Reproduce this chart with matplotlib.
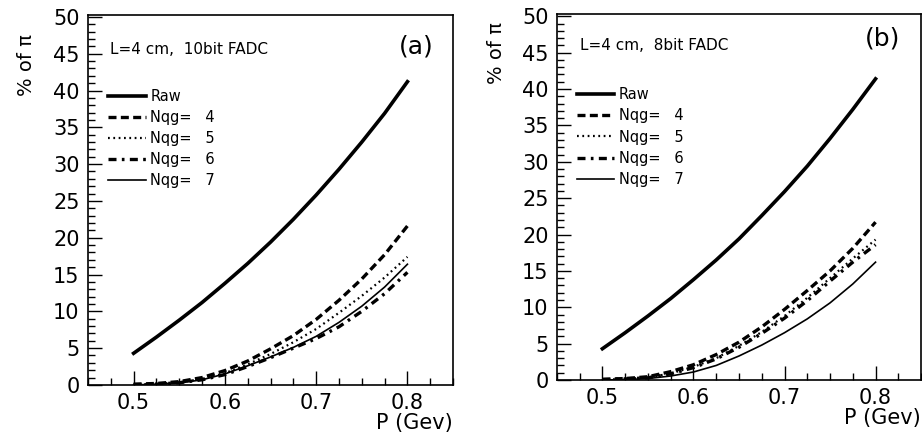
import numpy as np
import matplotlib
matplotlib.use("Agg")
from matplotlib import pyplot as plt
import matplotlib.ticker as mticker

plt.rcParams['font.family'] = ['DejaVu Sans']

# momentum points (GeV)
p = [0.5, 0.525, 0.55, 0.575, 0.6, 0.625, 0.65, 0.675, 0.7, 0.725, 0.75, 0.775, 0.8]

# panel (a): 10bit FADC
raw_a = [4.3, 6.5, 8.8, 11.2, 13.8, 16.5, 19.4, 22.5, 25.8, 29.3, 33.0, 36.9, 41.2]
nqg4_a = [0.1, 0.2, 0.45, 1.0, 1.95, 3.25, 4.9, 6.7, 8.9, 11.5, 14.4, 17.7, 21.6]
nqg5_a = [0.05, 0.15, 0.35, 0.8, 1.6, 2.8, 4.2, 5.8, 7.6, 9.8, 12.1, 14.6, 17.4]
nqg6_a = [0.05, 0.1, 0.3, 0.7, 1.4, 2.5, 3.7, 5.0, 6.3, 7.9, 10.0, 12.4, 15.3]
nqg7_a = [0.0, 0.1, 0.25, 0.7, 1.5, 2.6, 3.8, 5.1, 6.6, 8.5, 10.7, 13.3, 16.4]

# panel (b): 8bit FADC
raw_b = [4.3, 6.5, 8.8, 11.2, 13.8, 16.5, 19.4, 22.6, 25.9, 29.4, 33.2, 37.2, 41.4]
nqg4_b = [0.1, 0.2, 0.45, 1.15, 2.1, 3.5, 5.2, 7.3, 9.7, 12.3, 15.0, 18.1, 21.7]
nqg5_b = [0.05, 0.15, 0.35, 0.9, 1.8, 3.0, 4.7, 6.6, 8.8, 11.3, 14.0, 16.7, 19.3]
nqg6_b = [0.05, 0.15, 0.3, 0.85, 1.7, 2.9, 4.5, 6.4, 8.5, 10.9, 13.6, 16.2, 18.6]
nqg7_b = [0.0, 0.05, 0.2, 0.55, 1.1, 2.0, 3.3, 4.8, 6.5, 8.4, 10.6, 13.2, 16.2]

labels = ["Raw", "Nqg=   4", "Nqg=   5", "Nqg=   6", "Nqg=   7"]
styles = [
    dict(color="black", lw=2.6, ls="-"),
    dict(color="black", lw=2.4, ls=(0, (2.4, 1.3))),
    dict(color="black", lw=1.6, ls=(0, (0.8, 1.6))),
    dict(color="black", lw=2.4, ls=(0, (2.4, 1.6, 0.8, 1.6))),
    dict(color="black", lw=1.2, ls="-"),
]


def panel(ax, series, note, tag, ylab_pos, note_pos, tag_pos, leg_pos):
    for y, lab, st in zip(series, labels, styles):
        ax.plot(p, y, label=lab, **st)
    ax.set_xlim(0.45, 0.85)
    ax.set_ylim(0, 50.3)
    ax.xaxis.set_major_locator(mticker.FixedLocator([0.5, 0.6, 0.7, 0.8]))
    ax.xaxis.set_major_formatter(mticker.FormatStrFormatter("%.1f"))
    ax.xaxis.set_minor_locator(mticker.MultipleLocator(0.025))
    ax.yaxis.set_major_locator(mticker.MultipleLocator(5))
    ax.yaxis.set_minor_locator(mticker.MultipleLocator(1))
    ax.tick_params(which="both", direction="in", top=False, right=False, width=1.0)
    ax.tick_params(which="major", length=10, labelsize=15, pad=6)
    ax.tick_params(which="minor", length=5)
    for s in ax.spines.values():
        s.set_linewidth(1.2)
    ax.text(ylab_pos[0], ylab_pos[1], "% of π", rotation=90, fontsize=14,
            transform=ax.transAxes, ha="center", va="center")
    ax.text(1.0, -0.103, "P (Gev)", fontsize=15, transform=ax.transAxes,
            ha="right", va="center")
    ax.text(note_pos[0], note_pos[1], note, fontsize=11, transform=ax.transAxes,
            ha="left", va="center")
    ax.text(tag_pos[0], tag_pos[1], tag, fontsize=18, transform=ax.transAxes,
            ha="center", va="center")
    ax.legend(loc="upper left", bbox_to_anchor=leg_pos, frameon=False, fontsize=10.5,
              handlelength=2.6, handletextpad=0.3, labelspacing=0.42, borderpad=0,
              borderaxespad=0)


fig = plt.figure(figsize=(9.22, 4.33), dpi=100)
ax1 = fig.add_axes([0.0954, 0.111, 0.396, 0.855])
ax2 = fig.add_axes([0.604, 0.1224, 0.395, 0.845])

panel(ax1, [raw_a, nqg4_a, nqg5_a, nqg6_a, nqg7_a], "L=4 cm,  10bit FADC", "(a)",
      (-0.167, 0.865), (0.06, 0.905), (0.9, 0.913), (0.055, 0.80))
panel(ax2, [raw_b, nqg4_b, nqg5_b, nqg6_b, nqg7_b], "L=4 cm,  8bit FADC", "(b)",
      (-0.165, 0.893), (0.063, 0.915), (0.893, 0.934), (0.054, 0.80))

fig.savefig("out.png", dpi=100)
